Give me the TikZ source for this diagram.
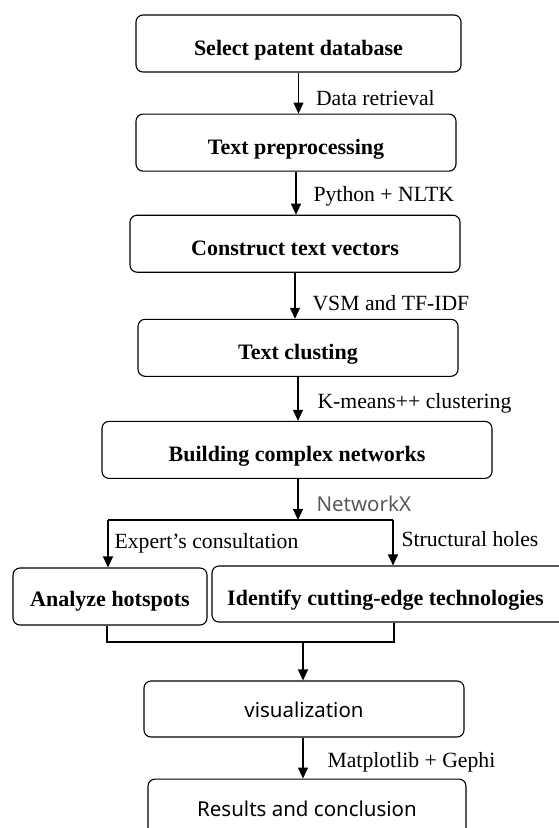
\documentclass[tikz,border=0pt]{standalone}
\usepackage{fontspec}
\setmainfont{Liberation Serif}
\setsansfont{Noto Sans}
\usetikzlibrary{positioning,arrows.meta}

\begin{document}
\begin{tikzpicture}[
    x=1pt, y=-1pt,
    stepbox/.style={
        rectangle,draw,rounded corners=7pt,
        line width=1.1pt,
        minimum height=57pt,
        inner sep=0pt,
        text height=24pt, text depth=0pt,
        align=center,
        font=\fontsize{22}{26}\selectfont\bfseries
    },
    sansbox/.style={stepbox, text height=17pt, font=\fontsize{20.5}{24}\selectfont\sffamily},
    lbl/.style={inner sep=0pt, font=\fontsize{21.7}{25}\selectfont},
    arr/.style={line width=1.1pt, -{Triangle[width=10pt,length=11pt]}},
    link/.style={line width=1.1pt}
]
\useasboundingbox (0,0) rectangle (558,828);

\node[stepbox, minimum width=325pt] (select) at (298.5,43.5) {Select patent database};
\node[stepbox, minimum width=320pt, below=41pt of select, xshift=-2.5pt] (prep) {Text preprocessing};
\node[stepbox, minimum width=330pt, below=43pt of prep, xshift=-1pt] (vectors) {Construct text vectors};
\node[stepbox, minimum width=320pt, below=46pt of vectors, xshift=3pt] (cluster) {Text clusting};
\node[stepbox, minimum width=390pt, below=44pt of cluster, xshift=-1pt] (build) {Building complex networks};
\node[stepbox, minimum width=194pt, text height=19pt] (hot) at (110,596.5) {Analyze hotspots};
\node[stepbox, minimum width=356pt, minimum height=56pt, text height=22pt] (cut) at (390,594) {\hspace*{-9pt}Identify cutting-edge technologies};
\node[sansbox, minimum width=320pt, minimum height=56pt] (vis) at (304,709) {visualization};
\node[sansbox, minimum width=318pt, below=41pt of vis, xshift=3pt] (res) {Results and conclusion};

\coordinate (jl) at (108,520);
\coordinate (jm) at (298,520);
\coordinate (jr) at (393,520);
\coordinate (ml) at (107,642);
\coordinate (mm) at (303,642);
\coordinate (mr) at (394,642);

\draw[arr] (select.south) -- (select.south |- prep.north) node[lbl, pos=0.63, right=17pt] (l1) {Data retrieval};
\draw[arr] (prep.south) -- (prep.south |- vectors.north) node[lbl, pos=0.58, right=17pt] (l2) {Python + NLTK};
\draw[arr] (vectors.south) -- (vectors.south |- cluster.north) node[lbl, pos=0.65, right=17pt] (l3) {VSM and TF-IDF};
\draw[arr] (cluster.south) -- (cluster.south |- build.north) node[lbl, pos=0.61, right=19pt] (l4) {K-means++ clustering};
\draw[arr] (build.south -| jm) -- (jm) node[pos=0.6, right=18pt, inner sep=0pt, text=black!65, font=\fontsize{20.5}{24}\selectfont\sffamily] (l5) {NetworkX};

\draw[link] (jl) -- (jr);
\draw[arr] (jl) -- (jl |- hot.north) node[lbl, pos=0.48, right=6pt] (l6) {Expert's consultation};
\draw[arr] (jr) -- (jr |- cut.north) node[lbl, pos=0.43, right=8pt] (l7) {Structural holes};

\draw[link] (ml |- hot.south) -- (ml) -- (mr) -- (mr |- cut.south);
\draw[arr] (mm) -- (mm |- vis.north);
\draw[arr] (vis.south -| mm) -- (mm |- res.north) node[lbl, pos=0.61, right=24pt] (l8) {Matplotlib + Gephi};
\end{tikzpicture}
\end{document}
